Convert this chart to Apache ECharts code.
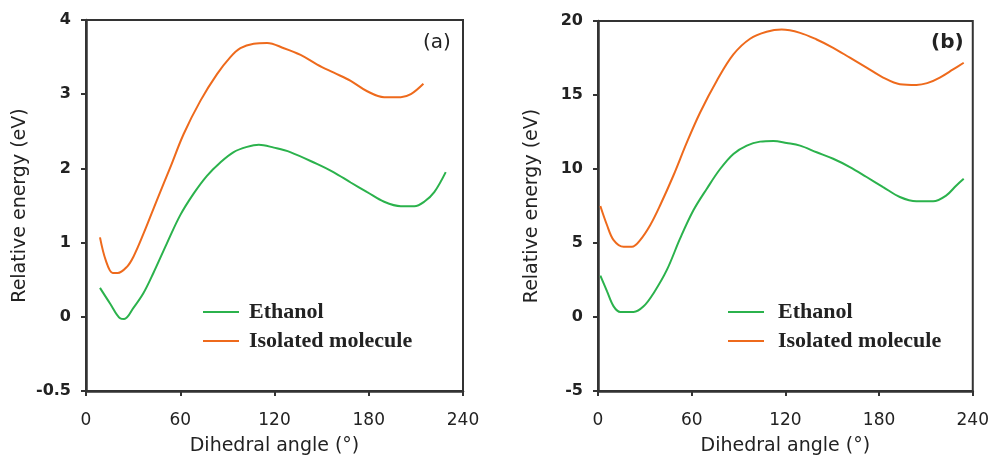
<!DOCTYPE html>
<html>
<head>
<meta charset="utf-8">
<script src="https://cdn.jsdelivr.net/npm/echarts@6/dist/echarts.min.js"></script>
<style>
  html, body { margin: 0; padding: 0; background: #fff; }
  #chart { width: 992px; height: 461px; }
</style>
</head>
<body>
<div id="chart"></div>
<script>
// panel (a): [dihedral angle, energy]
var ethanolA = [[8.9,0.39],[15.3,0.18],[21.7,-0.02],[24.3,-0.03],[30.2,0.12],[36.6,0.32],[42.9,0.59],
  [51.5,0.99],[60,1.37],[68.5,1.66],[77,1.9],[85.5,2.08],[94,2.22],[102.5,2.29],[110,2.32],[119.6,2.28],
  [130,2.22],[147,2.06],[157.5,1.95],[168.5,1.81],[179,1.68],[189.8,1.55],[200.4,1.49],[209,1.49],
  [215.3,1.55],[221.7,1.68],[229,1.95]];
var isolatedA = [[8.9,1.07],[12.6,0.76],[17,0.59],[20.2,0.59],[25.9,0.67],[30.2,0.81],[36.6,1.12],
  [45.1,1.57],[53.6,2.01],[62.1,2.46],[72.8,2.91],[83.4,3.27],[91.9,3.5],[98.3,3.62],[106.8,3.68],
  [115.3,3.69],[126,3.62],[136.6,3.53],[147.2,3.4],[157.8,3.29],[168.5,3.18],[179,3.04],[189.8,2.96],
  [200.4,2.96],[206.8,3.0],[214.8,3.14]];
// panel (b)
var ethanolB = [[1.5,2.8],[5.8,1.73],[10,0.72],[14.3,0.34],[22.8,0.34],[29.2,0.72],[35.6,1.61],
  [44.1,3.18],[52.6,5.31],[61.1,7.21],[69.7,8.67],[78.2,10.0],[86.7,11.02],[95.3,11.58],[103.8,11.85],
  [112.3,11.9],[120.8,11.76],[129.4,11.58],[140,11.13],[150.6,10.69],[161.3,10.13],[172,9.46],
  [182.6,8.78],[193.3,8.11],[203.9,7.82],[214.6,7.82],[223.1,8.22],[229.5,8.89],[234.2,9.34]];
var isolatedB = [[1.5,7.5],[5.8,6.2],[10,5.2],[16.4,4.75],[21.7,4.75],[27,5.2],[33.4,6.2],[39.8,7.55],
  [48.3,9.56],[56.9,11.8],[65.4,13.82],[76,15.95],[86.7,17.74],[97.4,18.8],[108,19.27],[117.6,19.42],
  [129.4,19.2],[140,18.75],[150.6,18.19],[161.3,17.52],[172,16.85],[182.6,16.18],[193.3,15.73],
  [203.9,15.68],[210.8,15.8],[218.9,16.18],[227.4,16.73],[234.2,17.18]];

var seriesNames = ['Ethanol', 'Isolated molecule'];
var colors = ['#2bb24c', '#ee6a1c'];

var myChart = echarts.init(document.getElementById('chart'));

function xAxisFor(idx) {
  return {
    gridIndex: idx, type: 'value', min: 0, max: 240, interval: 60,
    name: 'Dihedral angle (°)', nameLocation: 'middle', nameGap: 46,
    nameTextStyle: { fontFamily: 'DejaVu Sans', fontSize: 19, color: '#222' },
    axisLine: { onZero: false, lineStyle: { color: '#333', width: 2.5 } },
    axisTick: { length: 5, lineStyle: { color: '#333', width: 2 } },
    axisLabel: { fontFamily: 'DejaVu Sans', fontSize: 17, color: '#222', margin: 21 },
    splitLine: { show: false }
  };
}
function yAxisFor(idx, min, max, step, fmt) {
  return {
    gridIndex: idx, type: 'value', min: min, max: max, interval: step,
    name: 'Relative energy (eV)', nameLocation: 'middle', nameGap: 56,
    nameTextStyle: { fontFamily: 'DejaVu Sans', fontSize: 19, color: '#222' },
    axisLine: { onZero: false, lineStyle: { color: '#333', width: 2.5 } },
    axisTick: { length: 5, lineStyle: { color: '#333', width: 2 } },
    axisLabel: { fontFamily: 'DejaVu Sans', fontSize: 16, fontWeight: 'bold', color: '#222', margin: 15, formatter: fmt },
    splitLine: { show: false }
  };
}
function lineFor(name, data, idx, color) {
  return {
    name: name, type: 'line', xAxisIndex: idx, yAxisIndex: idx, data: data,
    smooth: 0.35, showSymbol: false, color: color,
    lineStyle: { width: 2, color: color }
  };
}
function legendFor(left, gap) {
  return {
    orient: 'vertical', left: left, top: 296, data: seriesNames,
    icon: 'rect', itemWidth: 36, itemHeight: 2, itemGap: 7,
    textStyle: { fontFamily: 'Liberation Serif', fontWeight: 'bold', fontSize: 22, color: '#222',
      lineHeight: 22, padding: [0, 0, 0, gap] }
  };
}

var option = {
  animation: false,
  grid: [
    { left: 86, right: 529, top: 20, bottom: 69, show: true, borderColor: '#333', borderWidth: 2 },
    { left: 598, right: 19, top: 21, bottom: 68, show: true, borderColor: '#333', borderWidth: 2 }
  ],
  xAxis: [xAxisFor(0), xAxisFor(1)],
  yAxis: [
    yAxisFor(0, -1, 4, 1, function (v) { return v === -1 ? '-0.5' : String(v); }),
    yAxisFor(1, -5, 20, 5, null)
  ],
  legend: [legendFor(198, 5), legendFor(723, 9)],
  graphic: [
    { type: 'text', left: 423, top: 33, style: { text: '(a)', fontFamily: 'DejaVu Sans', fontSize: 20, fill: '#222' } },
    { type: 'text', left: 931, top: 33, style: { text: '(b)', fontFamily: 'DejaVu Sans', fontSize: 20, fontWeight: 'bold', fill: '#222' } }
  ],
  series: [
    lineFor(seriesNames[0], ethanolA, 0, colors[0]),
    lineFor(seriesNames[1], isolatedA, 0, colors[1]),
    lineFor(seriesNames[0], ethanolB, 1, colors[0]),
    lineFor(seriesNames[1], isolatedB, 1, colors[1])
  ]
};
myChart.setOption(option);
</script>
</body>
</html>
